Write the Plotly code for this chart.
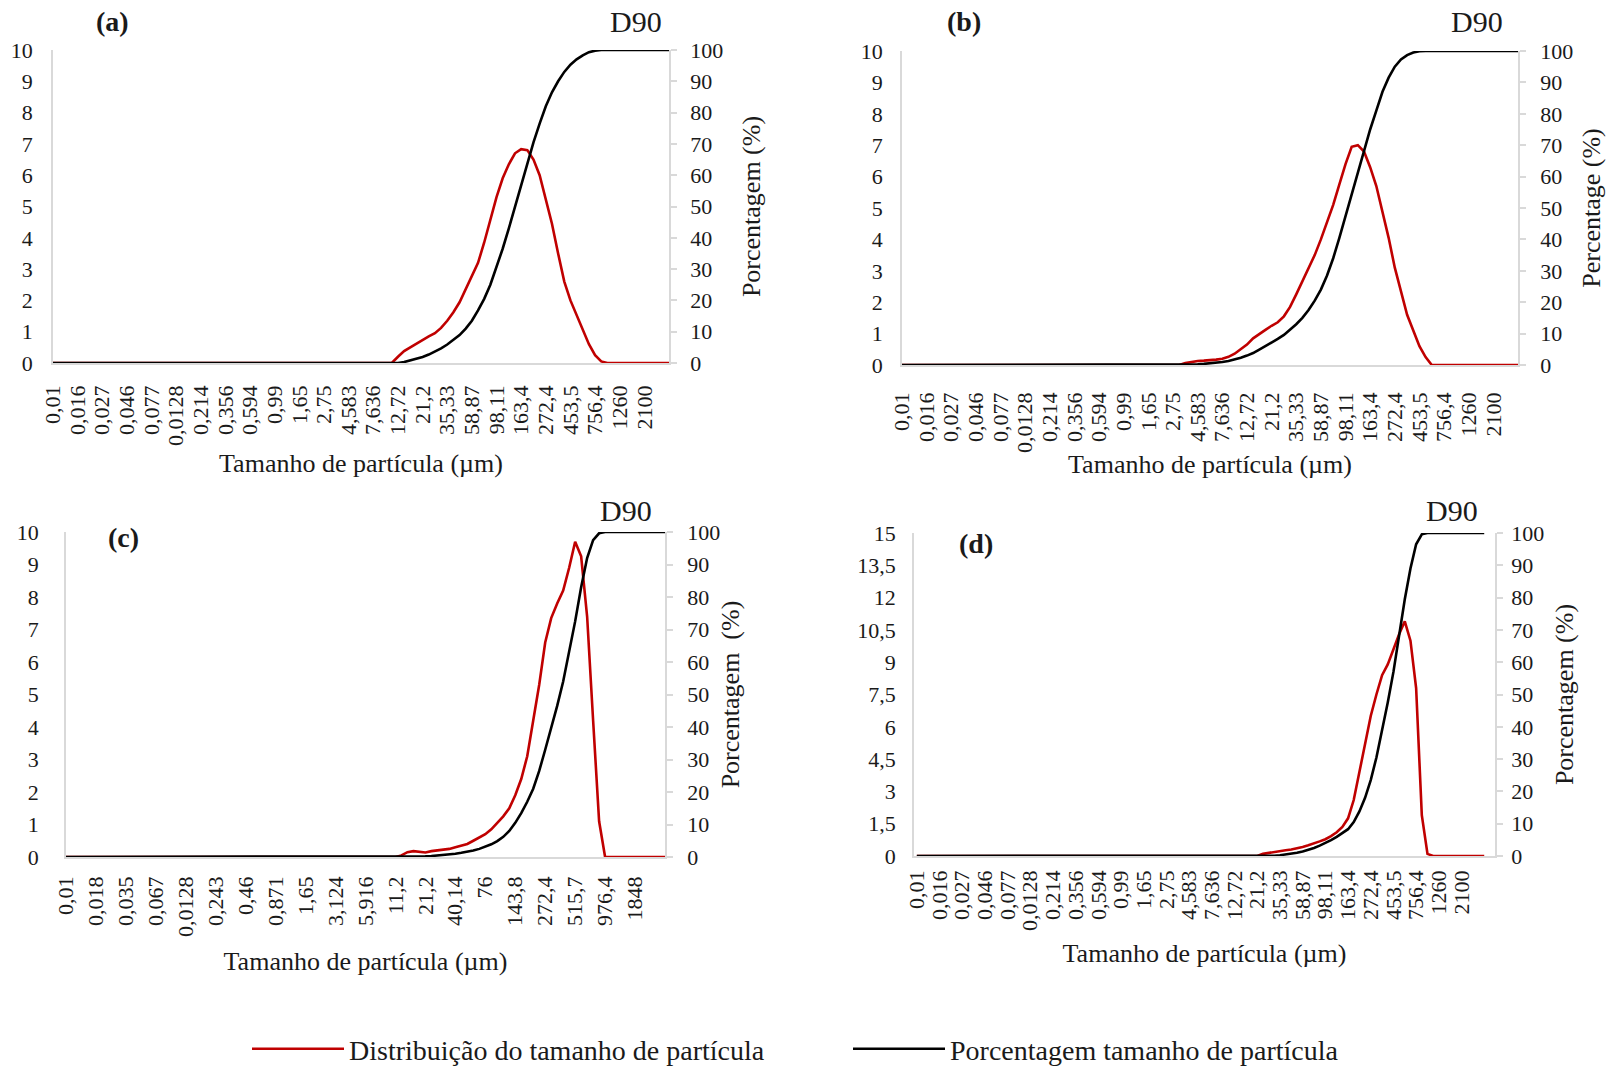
import plotly.graph_objects as go

# ---------------- data ----------------
size_labels_abd = ["0,01", "0,016", "0,027", "0,046", "0,077", "0,0128", "0,214", "0,356",
                   "0,594", "0,99", "1,65", "2,75", "4,583", "7,636", "12,72", "21,2",
                   "35,33", "58,87", "98,11", "163,4", "272,4", "453,5", "756,4", "1260", "2100"]
size_labels_c = ["0,01", "0,018", "0,035", "0,067", "0,0128", "0,243", "0,46", "0,871",
                 "1,65", "3,124", "5,916", "11,2", "21,2", "40,14", "76", "143,8",
                 "272,4", "515,7", "976,4", "1848"]

# 101 size classes (index 0 .. 100)
dist_a = [0, 0, 0, 0, 0, 0, 0, 0, 0, 0, 0, 0, 0, 0, 0, 0, 0, 0, 0, 0,
          0, 0, 0, 0, 0, 0, 0, 0, 0, 0, 0, 0, 0, 0, 0, 0, 0, 0, 0, 0,
          0, 0, 0, 0, 0, 0, 0, 0, 0, 0, 0, 0, 0, 0, 0, 0,
          0.2, 0.38, 0.5, 0.62, 0.75, 0.85, 0.95, 1.12, 1.35, 1.62, 1.94, 2.35, 2.75, 3.2,
          3.85, 4.6, 5.3, 5.9, 6.35, 6.7, 6.83, 6.8, 6.5, 6.0, 5.2, 4.45, 3.5, 2.6, 2.0,
          1.55, 1.05, 0.6, 0.25, 0.05,
          0, 0, 0, 0, 0, 0, 0, 0, 0, 0, 0]
cum_a = [0, 0, 0, 0, 0, 0, 0, 0, 0, 0, 0, 0, 0, 0, 0, 0, 0, 0, 0, 0,
         0, 0, 0, 0, 0, 0, 0, 0, 0, 0, 0, 0, 0, 0, 0, 0, 0, 0, 0, 0,
         0, 0, 0, 0, 0, 0, 0, 0, 0, 0, 0, 0, 0, 0, 0, 0, 0,
         0.3, 0.8, 1.3, 1.9, 2.7, 3.6, 4.7, 5.9, 7.3, 8.9, 11.0, 13.5, 16.8, 20.5, 25,
         30.5, 36.5, 43, 50, 57, 64, 70.5, 76.5, 82, 86.5, 90, 93, 95.3, 97, 98.3, 99.3, 99.8,
         100, 100, 100, 100, 100, 100, 100, 100, 100, 100, 100, 100]

dist_b = [0, 0, 0, 0, 0, 0, 0, 0, 0, 0, 0, 0, 0, 0, 0, 0, 0, 0, 0, 0,
          0, 0, 0, 0, 0, 0, 0, 0, 0, 0, 0, 0, 0, 0, 0, 0, 0, 0, 0, 0,
          0, 0, 0, 0, 0, 0,
          0.06, 0.1, 0.13, 0.14, 0.15, 0.17, 0.2, 0.26, 0.36, 0.5, 0.65, 0.85, 1.0, 1.12,
          1.25, 1.36, 1.55, 1.85, 2.25, 2.65, 3.05, 3.5, 4.0, 4.55, 5.1, 5.75, 6.4, 6.95,
          7.0, 6.8, 6.3, 5.7, 4.9, 4.05, 3.1, 2.3, 1.6, 1.1, 0.6, 0.25,
          0, 0, 0, 0, 0, 0, 0, 0, 0, 0, 0, 0, 0, 0, 0]
cum_b = [0, 0, 0, 0, 0, 0, 0, 0, 0, 0, 0, 0, 0, 0, 0, 0, 0, 0, 0, 0,
         0, 0, 0, 0, 0, 0, 0, 0, 0, 0, 0, 0, 0, 0, 0, 0, 0, 0, 0, 0,
         0, 0, 0, 0, 0, 0, 0,
         0.1, 0.2, 0.35, 0.5, 0.7, 0.95, 1.3, 1.7, 2.3, 3.0, 3.8, 4.9, 6.0, 7.1, 8.3, 9.6,
         11.2, 13.0, 15, 17.5, 20.5, 24, 28.5, 34, 40.5, 47.5, 54.5, 61.5, 68.5, 75, 81, 87,
         91.5, 95, 97.3, 98.7, 99.5, 99.9,
         100, 100, 100, 100, 100, 100, 100, 100, 100, 100, 100, 100, 100, 100, 100, 100]

dist_c = [0, 0, 0, 0, 0, 0, 0, 0, 0, 0, 0, 0, 0, 0, 0, 0, 0, 0, 0, 0,
          0, 0, 0, 0, 0, 0, 0, 0, 0, 0, 0, 0, 0, 0, 0, 0, 0, 0, 0, 0,
          0, 0, 0, 0, 0, 0, 0, 0, 0, 0, 0, 0, 0, 0, 0, 0,
          0.05, 0.15, 0.18, 0.15, 0.14, 0.18, 0.2, 0.22, 0.25, 0.3, 0.35, 0.4, 0.5, 0.6,
          0.7, 0.85, 1.05, 1.25, 1.5, 1.9, 2.4, 3.1, 4.2, 5.3, 6.6, 7.35, 7.8, 8.2, 8.9,
          9.7, 9.25, 7.4, 4.2, 1.1,
          0, 0, 0, 0, 0, 0, 0, 0, 0, 0, 0]
cum_c = [0, 0, 0, 0, 0, 0, 0, 0, 0, 0, 0, 0, 0, 0, 0, 0, 0, 0, 0, 0,
         0, 0, 0, 0, 0, 0, 0, 0, 0, 0, 0, 0, 0, 0, 0, 0, 0, 0, 0, 0,
         0, 0, 0, 0, 0, 0, 0, 0, 0, 0, 0, 0, 0, 0, 0, 0, 0, 0,
         0.05, 0.1, 0.2, 0.3, 0.45, 0.6, 0.8, 1.0, 1.3, 1.6, 2.0, 2.5, 3.1, 3.9, 4.9, 6.2,
         8.0, 10.5, 13.5, 17, 21, 26.5, 33, 39.5, 46.5, 54, 63, 72.5, 83, 92, 97.5, 99.6,
         100, 100, 100, 100, 100, 100, 100, 100, 100, 100, 100]

dist_d = [0, 0, 0, 0, 0, 0, 0, 0, 0, 0, 0, 0, 0, 0, 0, 0, 0, 0, 0, 0,
          0, 0, 0, 0, 0, 0, 0, 0, 0, 0, 0, 0, 0, 0, 0, 0, 0, 0, 0, 0,
          0, 0, 0, 0, 0, 0, 0, 0, 0, 0, 0, 0, 0, 0, 0, 0, 0, 0, 0, 0, 0,
          0.1, 0.15, 0.18, 0.22, 0.27, 0.3, 0.35, 0.42, 0.5, 0.58, 0.68, 0.78, 0.92, 1.1,
          1.35, 1.75, 2.6, 3.9, 5.2, 6.5, 7.5, 8.4, 8.9, 9.6, 10.3, 10.9, 10.0, 7.8, 1.9, 0.1,
          0, 0, 0, 0, 0, 0, 0, 0, 0, 0]
cum_d = [0, 0, 0, 0, 0, 0, 0, 0, 0, 0, 0, 0, 0, 0, 0, 0, 0, 0, 0, 0,
         0, 0, 0, 0, 0, 0, 0, 0, 0, 0, 0, 0, 0, 0, 0, 0, 0, 0, 0, 0,
         0, 0, 0, 0, 0, 0, 0, 0, 0, 0, 0, 0, 0, 0, 0, 0, 0, 0, 0, 0, 0, 0, 0,
         0.1, 0.25, 0.45, 0.7, 1.0, 1.4, 1.9, 2.5, 3.2, 4.0, 4.9, 5.9, 7.0, 8.3, 10.5,
         13.8, 18, 23.5, 30.5, 38.5, 47.5, 57, 68, 79.5, 89, 96.5, 99.6,
         100, 100, 100, 100, 100, 100, 100, 100, 100, 100, 100]

panel_letters = ["(a)", "(b)", "(c)", "(d)"]
right_titles = ["Porcentagem (%)", "Percentage (%)", "Porcentagem  (%)", "Porcentagem (%)"]
x_title = "Tamanho de partícula (µm)"
series_names = ["Distribuição do tamanho de partícula", "Porcentagem tamanho de partícula"]
left_ticks_abc = [0, 1, 2, 3, 4, 5, 6, 7, 8, 9, 10]
left_ticks_d = [0, 1.5, 3, 4.5, 6, 7.5, 9, 10.5, 12, 13.5, 15]

# ---------------- layout helpers ----------------
W, H = 1612, 1066
FONT = "Liberation Serif, Times New Roman, serif"
TXT = "#1a1a1a"
GRID = "#d9d9d9"
RED = "#c00000"
BLK = "#000000"
TICK_SIZE = 22


def fx(x):
    return x / W


def fy(y):
    return 1 - y / H


panels = [
    dict(dist=dist_a, cum=cum_a, labels=size_labels_abd, step=4, x0=53, x1=669, y0=50, y1=363,
         xr=[0, 100], ymax=10, lticks=left_ticks_abc, lstand=14, xstand=12, tstand=9,
         rlab=9, rstand=20, letter_xy=(113, 21), d90_xy=(636, 21)),
    dict(dist=dist_b, cum=cum_b, labels=size_labels_abd, step=4, x0=902, x1=1518, y0=51, y1=365,
         xr=[0, 100], ymax=10, lticks=left_ticks_abc, lstand=13, xstand=17, tstand=3,
         rlab=10, rstand=10, letter_xy=(964, 21), d90_xy=(1477, 21)),
    dict(dist=dist_c, cum=cum_c, labels=size_labels_c, step=5, x0=66, x1=665, y0=532, y1=857,
         xr=[0, 100], ymax=10, lticks=left_ticks_abc, lstand=21, xstand=9, tstand=16,
         rlab=10, rstand=2, letter_xy=(123, 537), d90_xy=(626, 511)),
    dict(dist=dist_d, cum=cum_d, labels=size_labels_abd, step=4, x0=914, x1=1495, y0=533, y1=856,
         xr=[-0.5, 101.9], ymax=15, lticks=left_ticks_d, lstand=12, xstand=4, tstand=14,
         rlab=4, rstand=12, letter_xy=(976, 543), d90_xy=(1452, 511)),
]

fig = go.Figure()
layout = dict(
    width=W, height=H,
    margin=dict(l=0, r=0, t=0, b=0, autoexpand=False),
    paper_bgcolor="white", plot_bgcolor="white",
    separators=",.",
    font=dict(family=FONT, color=TXT),
    showlegend=True,
    legend=dict(orientation="h", x=fx(247), y=fy(1049), xanchor="left", yanchor="middle",
                font=dict(family=FONT, size=28, color=TXT),
                entrywidth=494, entrywidthmode="pixels", itemwidth=92,
                bgcolor="rgba(0,0,0,0)"),
)
annotations = []

for k, p in enumerate(panels, start=1):
    xid = "x" if k == 1 else f"x{k}"
    yl = "y" if k == 1 else f"y{2 * k - 1}"
    yr = f"y{2 * k}"
    xs = list(range(len(p["dist"])))
    fig.add_trace(go.Scatter(x=xs, y=p["dist"], xaxis=xid, yaxis=yl, mode="lines",
                             line=dict(color=RED, width=2.6), name=series_names[0],
                             showlegend=(k == 1), hoverinfo="skip"))
    fig.add_trace(go.Scatter(x=xs, y=p["cum"], xaxis=xid, yaxis=yr, mode="lines",
                             line=dict(color=BLK, width=2.6), name=series_names[1],
                             showlegend=(k == 1), hoverinfo="skip"))

    xkey = "xaxis" if k == 1 else f"xaxis{k}"
    ylkey = "yaxis" if k == 1 else f"yaxis{2 * k - 1}"
    yrkey = f"yaxis{2 * k}"
    tickvals = list(range(0, p["step"] * len(p["labels"]), p["step"]))
    layout[xkey] = dict(
        domain=[fx(p["x0"]), fx(p["x1"])], anchor=yl, range=p["xr"],
        showline=True, linecolor=GRID, linewidth=1.5, showgrid=False, zeroline=False,
        ticks="", tickmode="array", tickvals=tickvals, ticktext=p["labels"],
        tickangle=-90, tickfont=dict(family=FONT, size=TICK_SIZE, color=TXT),
        ticklabelstandoff=p["xstand"],
        title=dict(text=x_title, font=dict(family=FONT, size=26, color=TXT), standoff=p["tstand"]),
    )
    layout[ylkey] = dict(
        domain=[fy(p["y1"]), fy(p["y0"])], anchor=xid, range=[0, p["ymax"]],
        showline=True, linecolor=GRID, linewidth=1.5, showgrid=False, zeroline=False,
        ticks="", tickmode="array", tickvals=p["lticks"],
        tickfont=dict(family=FONT, size=TICK_SIZE, color=TXT), ticklabelstandoff=p["lstand"],
    )
    layout[yrkey] = dict(
        overlaying=yl, side="right", anchor=xid, range=[0, 100],
        showline=True, linecolor=GRID, linewidth=1.5, showgrid=False, zeroline=False,
        ticks="outside", ticklen=6, tickcolor=GRID, tickwidth=1.5,
        tickmode="linear", tick0=0, dtick=10,
        tickfont=dict(family=FONT, size=TICK_SIZE, color=TXT), ticklabelstandoff=p["rlab"],
        title=dict(text=right_titles[k - 1], font=dict(family=FONT, size=26, color=TXT),
                   standoff=p["rstand"]),
    )
    lx, ly = p["letter_xy"]
    annotations.append(dict(text=f"<b>{panel_letters[k - 1]}</b>", x=fx(lx), y=fy(ly),
                            xref="paper", yref="paper", showarrow=False,
                            xanchor="center", yanchor="middle",
                            font=dict(family=FONT, size=28, color=TXT)))
    dx, dy = p["d90_xy"]
    annotations.append(dict(text="D90", x=fx(dx), y=fy(dy), xref="paper", yref="paper",
                            showarrow=False, xanchor="center", yanchor="middle",
                            font=dict(family=FONT, size=30, color=TXT)))

layout["annotations"] = annotations
fig.update_layout(**layout)
fig.write_html("out.html")
